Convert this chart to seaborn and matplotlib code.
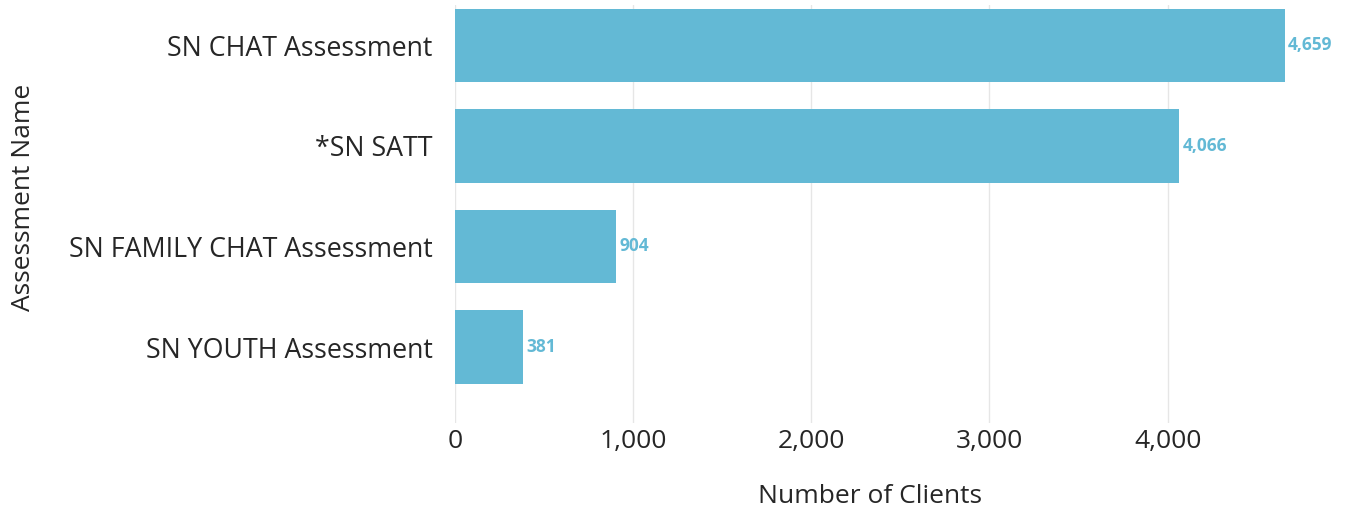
import matplotlib
matplotlib.use("Agg")
import matplotlib.pyplot as plt
import seaborn as sns
import pandas as pd
from matplotlib.ticker import FuncFormatter

# dados do grafico
avaliacoes = ["SN CHAT Assessment", "*SN SATT", "SN FAMILY CHAT Assessment", "SN YOUTH Assessment"]
clientes = [4659, 4066, 904, 381]

tabela = pd.DataFrame({"Assessment Name": avaliacoes, "Number of Clients": clientes})

sns.set_style("white")
plt.rcParams["font.family"] = ["Open Sans", "DejaVu Sans"]

cor = "#63b9d5"
texto = "#262626"

fig = plt.figure(figsize=(13.48, 5.15), dpi=100)
ax = fig.add_axes([455 / 1348, 1 - 423 / 515, (1285 - 455) / 1348, (423 - 5) / 515])

sns.barplot(data=tabela, x="Number of Clients", y="Assessment Name", color=cor,
            saturation=1, width=0.73, ax=ax, edgecolor="none")

# rotulos nas barras
for i, v in enumerate(clientes):
    ax.text(v + 18, i, f"{v:,}", va="center", ha="left", color=cor,
            fontsize=12.5, fontweight="bold", clip_on=False)

ax.set_xlim(0, max(clientes))
ax.set_ylim(3.755, -0.40)
ax.set_xticks([0, 1000, 2000, 3000, 4000])
ax.xaxis.set_major_formatter(FuncFormatter(lambda x, p: f"{int(x):,}"))
ax.grid(axis="x", color="#e6e6e6", linewidth=1)
ax.set_axisbelow(True)
for s in ax.spines.values():
    s.set_visible(False)
ax.tick_params(axis="y", length=0, labelsize=19.3, colors=texto, pad=16)
ax.tick_params(axis="x", length=0, labelsize=19, colors=texto, pad=4)
ax.set_xlabel("Number of Clients", fontsize=19, color=texto, labelpad=22)
ax.set_ylabel("Assessment Name", fontsize=19, color=texto)
ax.yaxis.set_label_coords(-0.505, 0.54)

fig.savefig("out.png", dpi=100)
